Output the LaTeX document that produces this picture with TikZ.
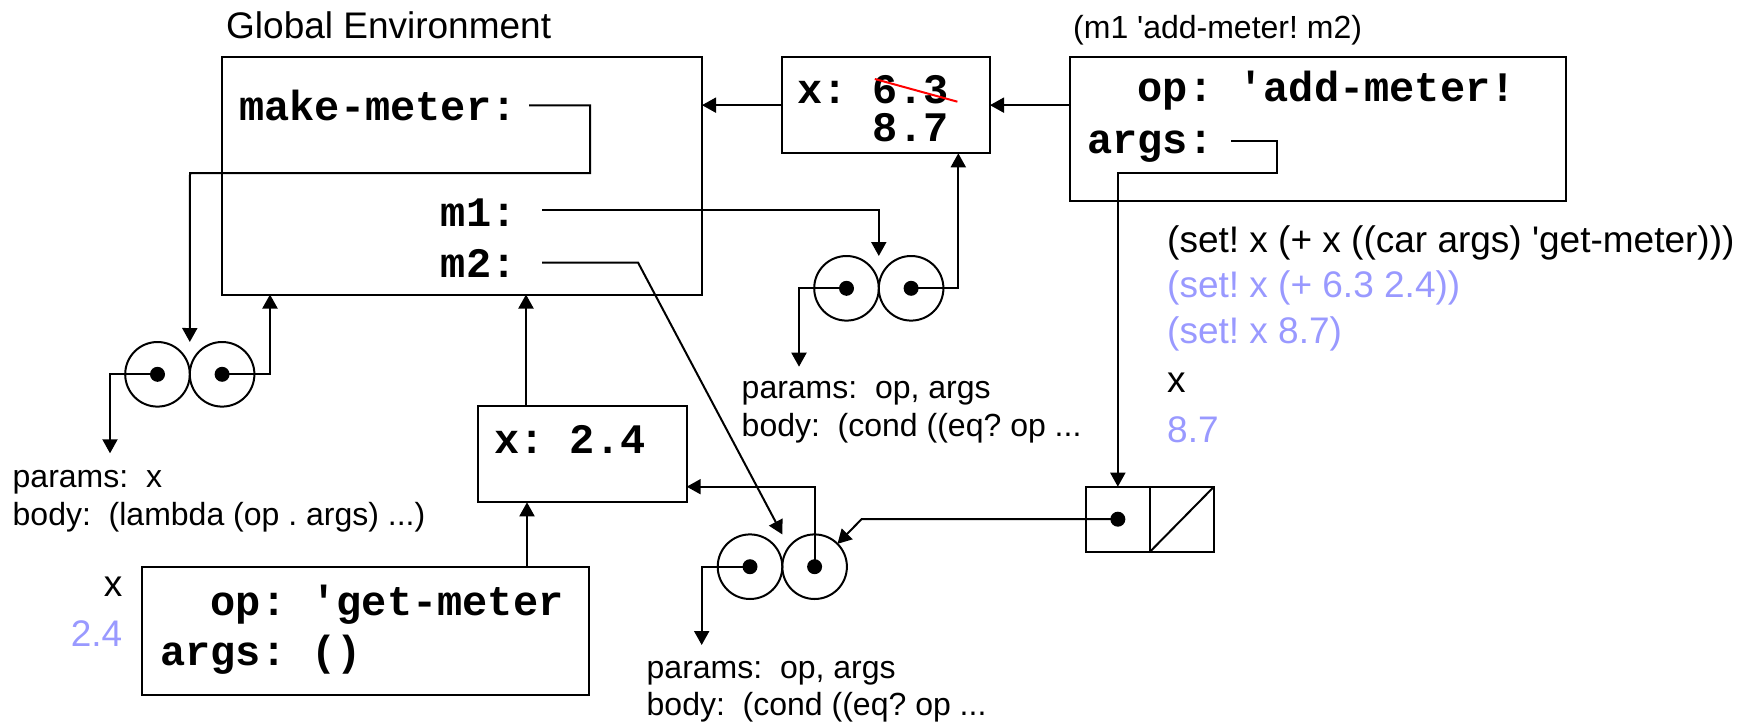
\documentclass[tikz,border=0pt]{standalone}
\usepackage{fontspec}
\setmainfont{Liberation Sans}
\newfontfamily\codefont{Liberation Mono}
\usetikzlibrary{arrows.meta}
\definecolor{lav}{RGB}{153,153,255}
\frenchspacing
\begin{document}
\begin{tikzpicture}[x=1pt,y=-1pt,
  ln/.style={line width=2pt},
  arr/.style={ln,-{Triangle[length=14pt,width=15pt]}},
  box/.style={draw,line width=2pt,inner sep=0pt,outer sep=0pt},
  cell/.style={circle,draw,line width=2pt,minimum size=64.6pt,inner sep=0pt,outer sep=0pt},
  dot/.style={circle,fill,minimum size=15pt,inner sep=0pt},
  code/.style={anchor=base west,inner sep=0pt,font=\codefont\bfseries\frenchspacing\fontsize{42}{50}\selectfont},
  lbl/.style={anchor=base west,inner sep=0pt,font=\frenchspacing\fontsize{32}{38}\selectfont},
  big/.style={anchor=base west,inner sep=0pt,font=\frenchspacing\fontsize{37}{44}\selectfont},
]
\useasboundingbox (0,0) rectangle (1754,723);

% ---- boxes (frames)
\node[box,minimum width=480pt,minimum height=237.5pt] (genv) at (462,175.75) {};
\node[box,minimum width=208pt,minimum height=96.3pt] (e1) at (886,105.15) {};
\node[box,minimum width=496.2pt,minimum height=144.3pt] (opbox) at (1317.6,128.85) {};
\node[box,minimum width=208.4pt,minimum height=96.3pt] (e2) at (582.5,454.15) {};
\node[box,minimum width=447.8pt,minimum height=128.3pt] (e3) at (365.5,630.85) {};
\node[box,minimum width=64.3pt,minimum height=65pt] (consL) at (1117.85,519.2) {};
\node[box,minimum width=64pt,minimum height=65pt] (consR) at (1182,519.2) {};
\draw[ln] (consR.south west) -- (consR.north east);

% ---- procedure pairs
\node[cell] (p0l) at (157.5,374.3) {};
\node[cell] (p0r) at (222.1,374.3) {};
\node[cell] (p1l) at (846.5,288.3) {};
\node[cell] (p1r) at (911.1,288.3) {};
\node[cell] (p2l) at (750,566.7) {};
\node[cell] (p2r) at (814.6,566.7) {};
\node[dot] (d0l) at (p0l.center) {};
\node[dot] (d0r) at (p0r.center) {};
\node[dot] (d1l) at (p1l.center) {};
\node[dot] (d1r) at (p1r.center) {};
\node[dot] (d2l) at (p2l.center) {};
\node[dot] (d2r) at (p2r.center) {};
\node[dot] (dc) at (consL.center) {};

% ---- texts
\node[big] (gtitle) at (226,38.3) {Global Environment};
\node[lbl] (call) at (1073,38) {(m1 \textquotesingle add-meter! m2)};

\node[code] (mm) at (239,120.7) {make-meter:};
\node[code] (m1t) at (440.6,226.7) {m1:};
\node[code] (m2t) at (440.6,277.3) {m2:};

\node[code] (e1a) at (797,103.3) {x: 6.3};
\node[code] (e1b) at (872.6,141) {8.7};
\draw[red,line width=2pt] (874.8,79) -- (957.4,101.7);

\node[code] (opa) at (1137.4,101.7) {op: \textquotesingle add-meter!};
\node[code] (opb) at (1087,153.3) {args:};

\node[code] (e2a) at (494,453.3) {x: 2.4};

\node[code] (e3a) at (210.4,615) {op: \textquotesingle get-meter};
\node[code] (e3b) at (160,665.7) {args: ()};

\node[big,anchor=base east] (xl) at (122.5,596.7) {x};
\node[big,anchor=base east,text=lav] (vl) at (122.5,646.7) {2.4};

\node[lbl] (p0a) at (12.5,487) {params:\ \ x};
\node[lbl] (p0b) at (12.5,525) {body:\ \ (lambda (op . args) ...)};
\node[lbl] (p1a) at (741.5,398.5) {params:\ \ op, args};
\node[lbl] (p1b) at (741.5,436.7) {body:\ \ (cond ((eq? op ...};
\node[lbl] (p2a) at (646.5,678.3) {params:\ \ op, args};
\node[lbl] (p2b) at (646.5,715.7) {body:\ \ (cond ((eq? op ...};

\node[big] (r1) at (1167,252.7) {(set! x (+ x ((car args) \textquotesingle get-meter)))};
\node[big,text=lav] (r2) at (1167,297) {(set! x (+ 6.3 2.4))};
\node[big,text=lav] (r3) at (1167,343.3) {(set! x 8.7)};
\node[big] (r4) at (1167,392.7) {x};
\node[big,text=lav] (r5) at (1167,442.7) {8.7};

% ---- connector end points
\coordinate (mmS) at (529,105.3);
\coordinate (m1S) at (542,210);
\coordinate (m2S) at (542,262.5);
\coordinate (argS) at (1231,140.7);
\coordinate (g0) at (270,294.5);
\coordinate (g1) at (526,294.5);
\coordinate (e1in) at (958.3,153.3);
\coordinate (e2in) at (686.7,486.7);
\coordinate (e2bot) at (527,502.3);
\coordinate (q0) at (110,453.3);
\coordinate (q1) at (799,366.7);
\coordinate (q2) at (701.7,645);

% ---- connectors
\draw[arr] (mmS) -- (590,105.3) -- (590,173) -- (190,173) -- (p0l.north -| p0l.east);
\draw[arr] (m1S) -- (878.8,210) -- (p1l.north -| p1l.east);
\draw[arr] (m2S) -- (638,262.5) -- (p2l.north -| p2l.east);
\draw[arr] (opbox.west |- e1.east) -- (e1.east);
\draw[arr] (e1.west) -- (e1.west -| genv.east);
\draw[arr] (argS) -- (1276.7,140.7) -- (1276.7,173.3) -- (1117.85,173.3) -- (consL.north);
\draw[arr] (d0r.center) -| (g0);
\draw[arr] (d0l.center) -| (q0);
\draw[arr] (d1r.center) -| (e1in);
\draw[arr] (d1l.center) -| (q1);
\draw[arr] (d2r.center) |- (e2in);
\draw[arr] (d2l.center) -| (q2);
\draw[arr] (e2.north -| g1) -- (g1);
\draw[arr] (e3.north -| e2bot) -- (e2bot);
\draw[arr] (dc.center) -- (861.7,519) -- (p2r.north east);
\end{tikzpicture}
\end{document}
